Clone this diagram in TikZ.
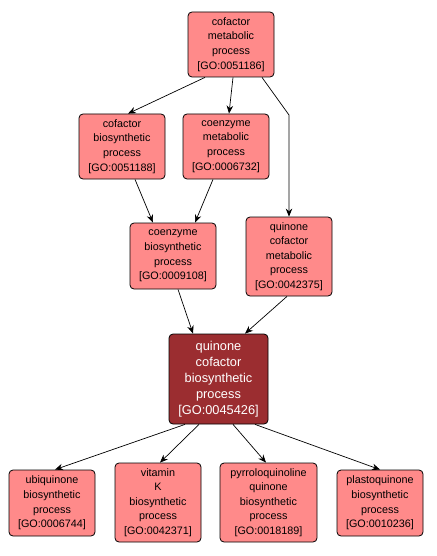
\documentclass[tikz,border=0pt]{standalone}
\usepackage{fontspec}
\setmainfont{Liberation Sans}
\usetikzlibrary{arrows.meta}
\definecolor{lightgo}{HTML}{FF8A8A}
\definecolor{darkgo}{HTML}{9B2D30}
\tikzset{
  goterm/.style={draw=black, line width=0.8pt, fill=lightgo, rounded corners=4pt,
    align=center, font=\fontsize{10.8}{14.6}\selectfont, inner sep=0pt, anchor=center},
  gofocus/.style={goterm, fill=darkgo, text=white, font=\fontsize{12.8}{16}\selectfont},
  isa/.style={-{Stealth[length=8pt,width=6.5pt]}, line width=0.7pt, black}
}
\begin{document}
\begin{tikzpicture}[x=1pt,y=-1pt]
\useasboundingbox (0,0) rectangle (436,556);
\node[goterm, minimum width=86pt, minimum height=65pt] (m51186) at (231,44.5) {cofactor\\metabolic\\process\\{[GO:0051186]}};
\node[goterm, minimum width=86pt, minimum height=65pt] (m51188) at (122,146.5) {cofactor\\biosynthetic\\process\\{[GO:0051188]}};
\node[goterm, minimum width=86pt, minimum height=65pt] (m6732) at (226,146.5) {coenzyme\\metabolic\\process\\{[GO:0006732]}};
\node[goterm, minimum width=86pt, minimum height=66pt] (m9108) at (173,256) {coenzyme\\biosynthetic\\process\\{[GO:0009108]}};
\node[goterm, minimum width=86pt, minimum height=79pt] (m42375) at (289,256.5) {quinone\\cofactor\\metabolic\\process\\{[GO:0042375]}};
\node[gofocus, minimum width=99pt, minimum height=90pt] (m45426) at (218.5,379) {quinone\\cofactor\\biosynthetic\\process\\{[GO:0045426]}};
\node[goterm, minimum width=86pt, minimum height=66pt] (m6744) at (52,503) {ubiquinone\\biosynthetic\\process\\{[GO:0006744]}};
\node[goterm, minimum width=86pt, minimum height=79pt] (m42371) at (158,502.5) {vitamin\\K\\biosynthetic\\process\\{[GO:0042371]}};
\node[goterm, minimum width=97pt, minimum height=79pt] (m18189) at (268.5,502.5) {pyrroloquinoline\\quinone\\biosynthetic\\process\\{[GO:0018189]}};
\node[goterm, minimum width=86pt, minimum height=66pt] (m10236) at (380,503) {plastoquinone\\biosynthetic\\process\\{[GO:0010236]}};
\coordinate (bend) at (289,115);
\draw[isa] (m51186.south west -| 205,0) -- (m51188.north east -| 128,0);
\draw[isa] (m51186.south -| 233,0) -- (m6732.north -| 229,0);
\draw[isa] (m51186.south -| 262,0) -- (bend) -- (m42375.north);
\draw[isa] (m51188.south -| 135,0) -- (m9108.north -| 153,0);
\draw[isa] (m6732.south -| 213,0) -- (m9108.north -| 195,0);
\draw[isa] (m9108.south -| 178,0) -- (m45426.north -| 193,0);
\draw[isa] (m42375.south -| 287,0) -- (m45426.north -| 245,0);
\draw[isa] (m45426.south -| 185,0) -- (m6744.north -| 55,0);
\draw[isa] (m45426.south -| 199,0) -- (m42371.north -| 160,0);
\draw[isa] (m45426.south -| 233,0) -- (m18189.north -| 266,0);
\draw[isa] (m45426.south -| 255,0) -- (m10236.north -| 380,0);
\end{tikzpicture}
\end{document}
